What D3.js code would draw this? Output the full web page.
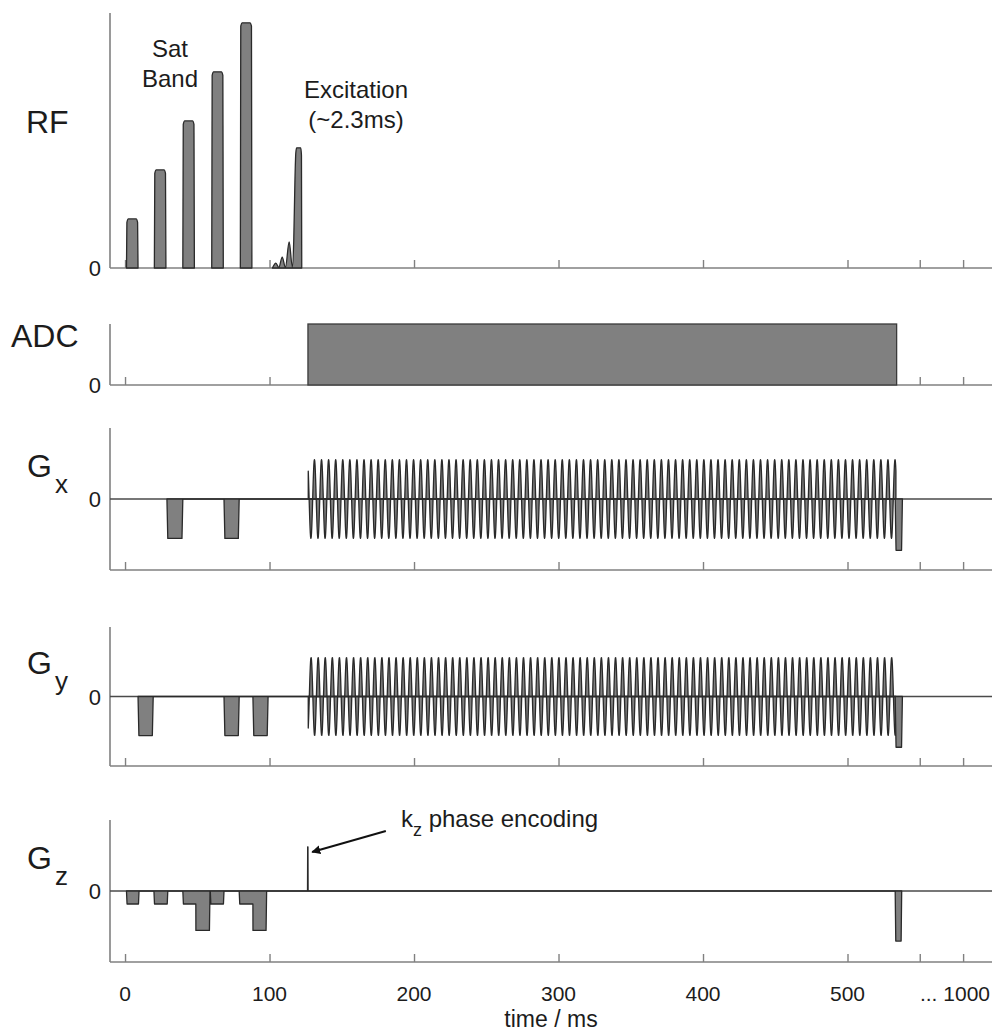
<!DOCTYPE html>
<html><head><meta charset="utf-8">
<script src="https://cdn.jsdelivr.net/npm/d3@7"></script>
<style>
body{margin:0;background:#fff}
svg{display:block}
text{font-family:"Liberation Sans",Arial,Helvetica,sans-serif;fill:#1c1c1c}
</style>
</head><body>
<svg id="chart" width="992" height="1033"></svg>
<script>
// ---------------- data (ms / arbitrary units) ----------------
const xTickValues = [0, 100, 200, 300, 400, 500, 550, 580];
const xTickLabels = ["0", "100", "200", "300", "400", "500", "", "... 1000"];

// RF: saturation band pulses
const satCenters = [5, 24.3, 44, 64, 83.8];
const satAmps = [1, 2, 3, 4, 5];
const satWidth = 8;
// RF: excitation pulse envelope (truncated sinc)
const excTimes = [102.0, 104.4, 106.4, 108.8, 111.0, 113.6, 115.8, 116.8, 117.6, 118.2, 118.8, 121.6, 122.1, 122.3];
const excAmps  = [0,     0.10,  0.01,  0.22,  0.01,  0.53,  0.02,  0.60,  1.80,  2.35,  2.45,  2.45,  2.30,  0];

// ADC window
const adcStart = 126.6, adcEnd = 534, adcLevel = 1;

// Gradient blocks
const gxStarts = [29, 68.5, 533],   gxEnds = [40, 79, 538],     gxAmps = [-1, -1, -1.3];
const gyStarts = [9, 68.5, 88.5, 533], gyEnds = [19.5, 79, 99, 538], gyAmps = [-1, -1, -1, -1.3];
const gzStarts = [1, 20, 40, 49, 59, 79, 88.5, 126.3, 533];
const gzEnds   = [9.7, 29.6, 49, 58.8, 68.5, 88.5, 98, 126.7, 537.5];
const gzAmps   = [-0.33, -0.33, -0.33, -1, -0.33, -0.33, -1, 1.12, -1.27];

// EPI-like readout oscillation
const readoutStart = 126.8, readoutEnd = 533.5, readoutPeriod = 4.9, readoutAmp = 1;
const gxPhase = 0.75, gyPhase = -0.3; // in units of pi

// annotation
const kzArrowFrom = [180.5, 1.52], kzArrowTo = [129.5, 0.99], kzTextAt = [191, 1.62];

// ---------------- layout ----------------
const W = 992, H = 1033;
const svg = d3.select("#chart");
const x = d3.scaleLinear().domain([-10.4, 600]).range([110, 992]);
const panels = {
  RF:  {top: 13,  bottom: 268, domain: [0, 5.2]},
  ADC: {top: 324, bottom: 385, domain: [0, 1]},
  Gx:  {top: 428, bottom: 570, domain: [-1.8, 1.8]},
  Gy:  {top: 627, bottom: 766, domain: [-1.78, 1.78]},
  Gz:  {top: 820, bottom: 962, domain: [-1.8, 1.8]}
};
for (const k in panels) {
  const p = panels[k];
  p.y = d3.scaleLinear().domain(p.domain).range([p.bottom, p.top]);
}
const axisColor = "#808080", waveStroke = "#2a2a2a", waveFill = "#808080";

// axes
for (const k in panels) {
  const p = panels[k];
  const g = svg.append("g").attr("transform", `translate(0,${p.bottom})`);
  const ax = d3.axisTop(x).tickValues(xTickValues).tickSize(8).tickFormat("");
  g.call(ax);
  g.select(".domain").attr("d", `M${x.range()[0]},0H${W}`).attr("stroke", axisColor).attr("stroke-width", 1.6);
  g.selectAll(".tick line").attr("stroke", axisColor).attr("stroke-width", 1.4).attr("y2", -8);
  svg.append("line").attr("x1", 110).attr("x2", 110).attr("y1", p.top).attr("y2", p.bottom)
    .attr("stroke", axisColor).attr("stroke-width", 1.6);
  svg.append("text").attr("x", 101).attr("y", p.y(0) + 8).attr("text-anchor", "end")
    .attr("font-size", 22).text("0");
  if (p.domain[0] < 0) {
    svg.append("line").attr("x1", 110).attr("x2", W).attr("y1", p.y(0)).attr("y2", p.y(0))
      .attr("stroke", "#4a4a4a").attr("stroke-width", 1.5);
  }
}

// bottom tick labels
svg.append("g").selectAll("text").data(xTickValues).join("text")
  .attr("x", d => x(d)).attr("y", 1001).attr("text-anchor", "middle")
  .attr("font-size", 21).text((d, i) => xTickLabels[i])
  .each(function () {
    const w = this.getComputedTextLength();
    const cx = +this.getAttribute("x");
    if (cx + w / 2 > W - 2) this.setAttribute("x", W - 2 - w / 2);
  });
svg.append("text").attr("x", 551).attr("y", 1027).attr("text-anchor", "middle")
  .attr("font-size", 23).text("time / ms");

// helpers
function areaFor(p) {
  return d3.area().x(d => x(d[0])).y0(p.y(0)).y1(d => p.y(d[1]));
}
function drawWave(p, pts, curve) {
  const a = areaFor(p);
  if (curve) a.curve(curve);
  svg.append("path").attr("d", a(pts)).attr("fill", waveFill)
    .attr("stroke", waveStroke).attr("stroke-width", 1.3).attr("stroke-linejoin", "round");
}
function blocksToPoints(starts, ends, amps, ramp) {
  const pts = [];
  let prevEnd = -Infinity, prevAmp = 0;
  for (let i = 0; i < starts.length; i++) {
    const s = starts[i], e = ends[i], a = amps[i];
    const r = Math.min(ramp, (e - s) / 4);
    if (Math.abs(s - prevEnd) < 1e-6 && pts.length) {
      pts.pop();
      pts.push([s, prevAmp]);
      pts.push([s + 0.05, a]);
    } else {
      pts.push([s, 0]);
      pts.push([s + r, a]);
    }
    pts.push([e - r, a]);
    pts.push([e, 0]);
    prevEnd = e; prevAmp = a;
  }
  return pts;
}
function oscillation(start, end, period, phase, amp) {
  const pts = [[start, 0]];
  const step = period / 24;
  for (let t = start; t <= end + 1e-9; t += step) {
    pts.push([t, amp * Math.sin(phase * Math.PI + 2 * Math.PI * (t - start) / period)]);
  }
  pts.push([end, amp * Math.sin(phase * Math.PI + 2 * Math.PI * (end - start) / period)]);
  pts.push([end, 0]);
  return pts;
}

// ---------------- RF ----------------
const rf = panels.RF;
satCenters.forEach((c, i) => {
  const A = satAmps[i], h = satWidth / 2;
  const pts = [[c - h, 0], [c - h + 0.3, A - 0.07], [c - h + 1.3, A], [c + h - 1.3, A], [c + h - 0.3, A - 0.07], [c + h, 0]];
  drawWave(rf, pts, d3.curveMonotoneX);
});
drawWave(rf, excTimes.map((t, i) => [t, excAmps[i]]), d3.curveMonotoneX);

// ---------------- ADC ----------------
const adc = panels.ADC;
svg.append("rect").attr("x", x(adcStart)).attr("y", adc.y(adcLevel))
  .attr("width", x(adcEnd) - x(adcStart)).attr("height", adc.y(0) - adc.y(adcLevel))
  .attr("fill", waveFill).attr("stroke", "#3a3a3a").attr("stroke-width", 1.3);

// ---------------- Gradients ----------------
drawWave(panels.Gx, oscillation(readoutStart, readoutEnd, readoutPeriod, gxPhase, readoutAmp));
drawWave(panels.Gx, blocksToPoints(gxStarts, gxEnds, gxAmps, 0.6));
drawWave(panels.Gy, oscillation(readoutStart, readoutEnd, readoutPeriod, gyPhase, readoutAmp));
drawWave(panels.Gy, blocksToPoints(gyStarts, gyEnds, gyAmps, 0.6));
drawWave(panels.Gz, blocksToPoints(gzStarts, gzEnds, gzAmps, 0.4));

// ---------------- labels ----------------
svg.append("text").attr("x", 26).attr("y", 133).attr("font-size", 32).text("RF");
svg.append("text").attr("x", 11).attr("y", 347).attr("font-size", 32).text("ADC");
[["Gx", "x", 477], ["Gy", "y", 674], ["Gz", "z", 869]].forEach(([k, sub, yy]) => {
  svg.append("text").attr("x", 27).attr("y", yy).attr("font-size", 32).text("G");
  svg.append("text").attr("x", 55).attr("y", yy + 16).attr("font-size", 26).text(sub);
});

// annotations
svg.append("text").attr("x", 170).attr("y", 57).attr("text-anchor", "middle").attr("font-size", 24).text("Sat");
svg.append("text").attr("x", 170).attr("y", 87).attr("text-anchor", "middle").attr("font-size", 24).text("Band");
svg.append("text").attr("x", 356).attr("y", 98).attr("text-anchor", "middle").attr("font-size", 24).text("Excitation");
svg.append("text").attr("x", 356).attr("y", 128).attr("text-anchor", "middle").attr("font-size", 24).text("(~2.3ms)");

const gz = panels.Gz;
svg.append("defs").append("marker").attr("id", "ah").attr("viewBox", "0 0 10 10")
  .attr("refX", 9).attr("refY", 5).attr("markerWidth", 9).attr("markerHeight", 9)
  .attr("markerUnits", "userSpaceOnUse").attr("orient", "auto")
  .append("path").attr("d", "M0,0L10,5L0,10z").attr("fill", "#111");
svg.append("line").attr("x1", x(kzArrowFrom[0])).attr("y1", gz.y(kzArrowFrom[1]))
  .attr("x2", x(kzArrowTo[0])).attr("y2", gz.y(kzArrowTo[1]))
  .attr("stroke", "#111").attr("stroke-width", 2).attr("marker-end", "url(#ah)");
const kt = svg.append("text").attr("x", x(kzTextAt[0])).attr("y", gz.y(kzTextAt[1])).attr("font-size", 24);
kt.append("tspan").text("k");
kt.append("tspan").attr("dy", 9).attr("font-size", 18).text("z");
kt.append("tspan").attr("dy", -9).text(" phase encoding");
</script>
</body></html>
